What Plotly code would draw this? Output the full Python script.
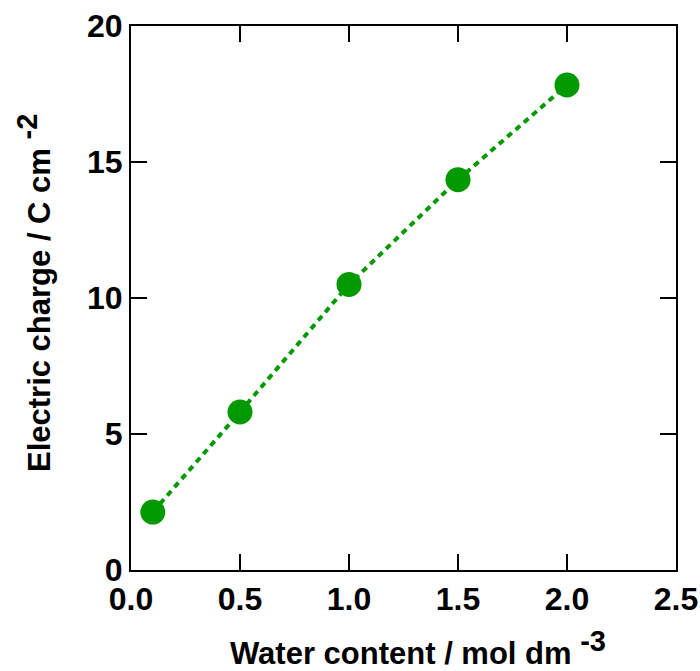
import plotly.graph_objects as go

water_content = [0.1, 0.5, 1.0, 1.5, 2.0]
electric_charge = [2.13, 5.81, 10.5, 14.35, 17.83]

x_ticks = [0.0, 0.5, 1.0, 1.5, 2.0, 2.5]
x_ticklabels = ["0.0", "0.5", "1.0", "1.5", "2.0", "2.5"]
y_ticks = [0, 5, 10, 15, 20]
y_ticklabels = ["0", "5", "10", "15", "20"]

x_title = "Water content / mol dm <sup><span style='font-size:29px'>-3</span></sup>"
y_title = "Electric charge / C cm <sup><span style='font-size:29px'>-2</span></sup>"

GREEN = "#009900"
FONT = "Liberation Sans, Arial, sans-serif"

fig = go.Figure()
fig.add_trace(go.Scatter(
    x=water_content, y=electric_charge, mode="lines+markers",
    line=dict(color=GREEN, width=4, dash="6px,5px"),
    marker=dict(color=GREEN, size=25),
    showlegend=False,
))

axis_common = dict(
    showgrid=False, zeroline=False, showline=True, linecolor="black", linewidth=2,
    mirror="ticks", ticks="inside", ticklen=16, tickwidth=2, tickcolor="black",
    tickfont=dict(family=FONT, size=32, color="black", weight="bold"),
    automargin=False, ticklabeloverflow="allow",
)

fig.update_xaxes(range=[0, 2.5], tickvals=x_ticks, ticktext=x_ticklabels, **axis_common)
fig.update_yaxes(range=[0, 20], tickvals=y_ticks, ticktext=y_ticklabels, **axis_common)

title_font = dict(family=FONT, size=31, color="black", weight="bold")
fig.add_annotation(text=x_title, xref="paper", yref="paper", x=0.5, y=0,
                   xanchor="center", yanchor="middle", xshift=14, yshift=-78,
                   showarrow=False, font=title_font)
fig.add_annotation(text=y_title, xref="paper", yref="paper", x=0, y=0.5,
                   xanchor="center", yanchor="middle", xshift=-97, yshift=5,
                   textangle=-90, showarrow=False, font=title_font)

fig.update_layout(
    width=700, height=671,
    margin=dict(l=131, r=24, t=26, b=101),
    plot_bgcolor="white", paper_bgcolor="white",
)

fig.write_html("out.html",
               config={"displayModeBar": False},
               post_script="document.body.style.margin='0';document.body.style.overflow='hidden';")
